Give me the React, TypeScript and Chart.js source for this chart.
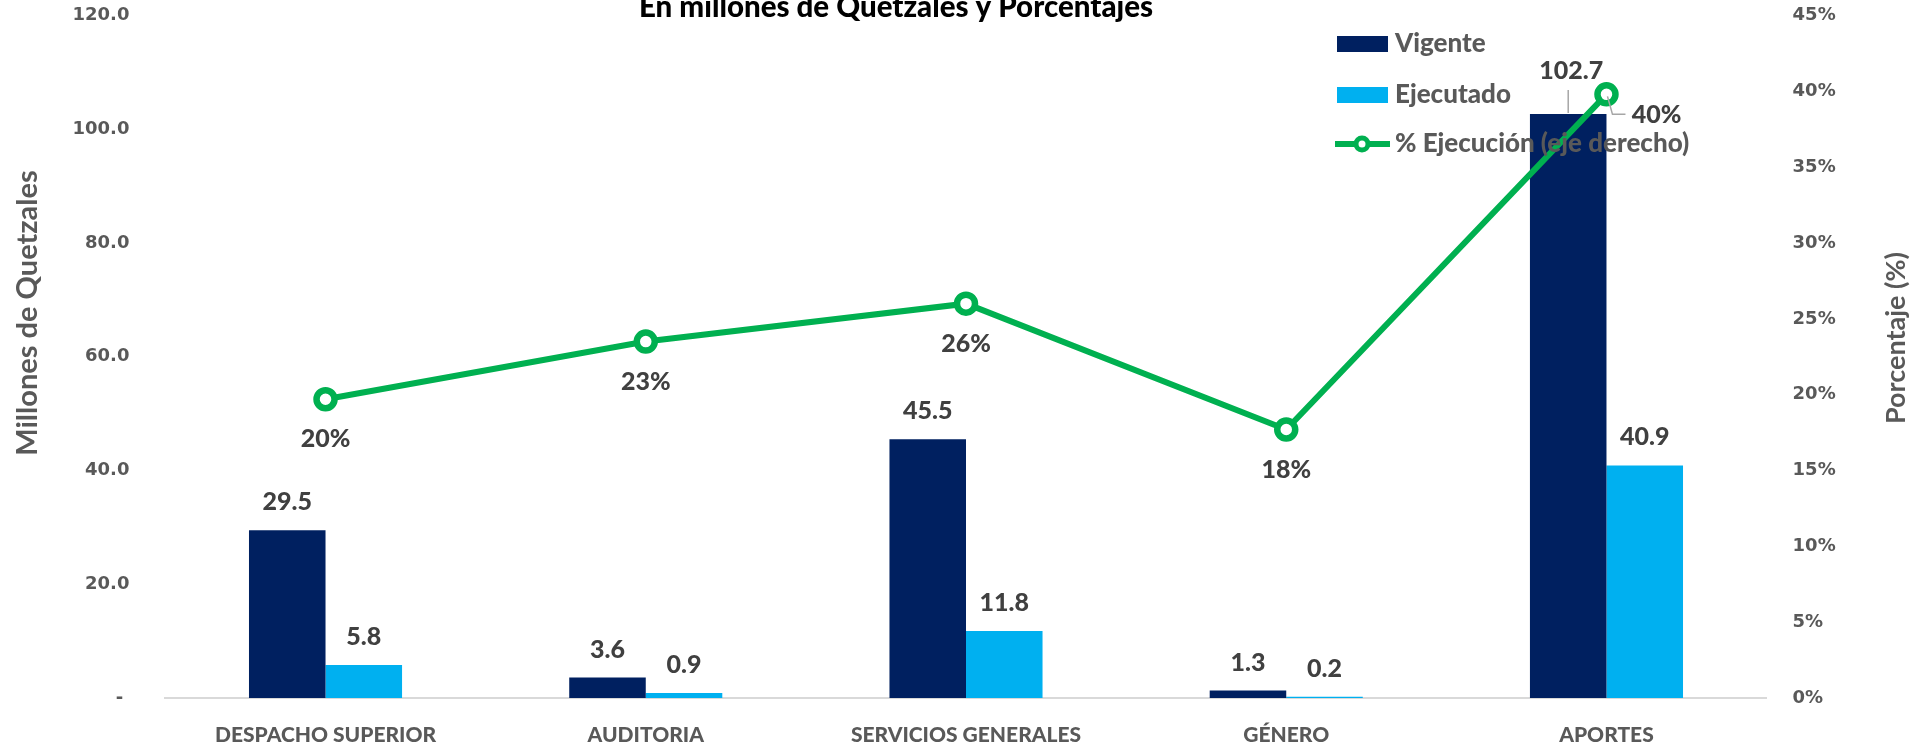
import React, { useEffect, useRef } from "react";
import { Chart, registerables } from "chart.js";
Chart.register(...registerables);

const categories = ["DESPACHO SUPERIOR", "AUDITORIA", "SERVICIOS GENERALES", "GÉNERO", "APORTES"];
const vigente = [29.5, 3.6, 45.5, 1.3, 102.7];
const ejecutado = [5.8, 0.9, 11.8, 0.2, 40.9];
const ejecucionPct = [19.7, 23.5, 26.0, 17.7, 39.8];
const ejecucionLabels = ["20%", "23%", "26%", "18%", "40%"];
const seriesNames = ["Vigente", "Ejecutado", "% Ejecución (eje derecho)"];
const chartTitle = "En millones de Quetzales y Porcentajes";
const leftAxisTitle = "Millones de Quetzales";
const rightAxisTitle = "Porcentaje (%)";

const NAVY = "#002060";
const CYAN = "#00B0F0";
const GREEN = "#00B050";
const TICK_GRAY = "#595959";
const LABEL_GRAY = "#404040";
const LATO = "Lato, 'Open Sans', sans-serif";
const DEJAVU = "'DejaVu Sans', sans-serif";
const HEAVY = "900";

const overlay = {
  id: "overlay",
  afterDatasetsDraw(chart: any) {
    const ctx = chart.ctx;
    ctx.save();
    ctx.font = `${HEAVY} 25px ${LATO}`;
    ctx.fillStyle = LABEL_GRAY;
    ctx.textAlign = "center";
    ctx.textBaseline = "middle";
    [0, 1].forEach((di) => {
      const meta = chart.getDatasetMeta(di);
      meta.data.forEach((bar: any, i: number) => {
        const v = chart.data.datasets[di].data[i] as number;
        let x = bar.x;
        let y = bar.y - 28;
        if (di === 0 && i === meta.data.length - 1) {
          x = bar.x + 3;
          y = bar.y - 43;
          ctx.strokeStyle = "#A6A6A6";
          ctx.lineWidth = 1.5;
          ctx.beginPath();
          ctx.moveTo(bar.x, bar.y - 1);
          ctx.lineTo(bar.x, bar.y - 24);
          ctx.stroke();
        }
        ctx.fillText(v.toFixed(1), x, y);
      });
    });
    const lmeta = chart.getDatasetMeta(2);
    lmeta.data.forEach((pt: any, i: number) => {
      let x = pt.x;
      let y = pt.y + 40;
      if (i === lmeta.data.length - 1) {
        x = pt.x + 50;
        y = pt.y + 21;
        ctx.strokeStyle = "#A6A6A6";
        ctx.lineWidth = 1.5;
        ctx.beginPath();
        ctx.moveTo(pt.x + 1, pt.y + 2);
        ctx.lineTo(pt.x + 6, pt.y + 20);
        ctx.lineTo(pt.x + 19, pt.y + 20);
        ctx.stroke();
      }
      ctx.fillText(ejecucionLabels[i], x, y);
    });
    ctx.restore();
  },
  afterDraw(chart: any) {
    const ctx = chart.ctx;
    ctx.save();
    // title (partly cut at top)
    ctx.font = `${HEAVY} 29.5px ${LATO}`;
    ctx.fillStyle = "#000000";
    ctx.textAlign = "center";
    ctx.textBaseline = "alphabetic";
    ctx.fillText(chartTitle, 896, 17);

    // axis titles
    ctx.fillStyle = TICK_GRAY;
    ctx.textBaseline = "middle";
    ctx.font = `bold 29px ${LATO}`;
    ctx.save();
    ctx.translate(28, 313);
    ctx.rotate(-Math.PI / 2);
    ctx.fillText(leftAxisTitle, 0, 0);
    ctx.restore();
    ctx.font = `bold 27px ${LATO}`;
    ctx.save();
    ctx.translate(1896, 338);
    ctx.rotate(-Math.PI / 2);
    ctx.fillText(rightAxisTitle, 0, 0);
    ctx.restore();

    // legend
    ctx.font = `${HEAVY} 26px ${LATO}`;
    ctx.textAlign = "left";
    ctx.fillStyle = NAVY;
    ctx.fillRect(1337, 36, 51, 16);
    ctx.fillStyle = CYAN;
    ctx.fillRect(1337, 87, 51, 16);
    ctx.strokeStyle = GREEN;
    ctx.lineWidth = 6;
    ctx.beginPath();
    ctx.moveTo(1335, 144);
    ctx.lineTo(1390, 144);
    ctx.stroke();
    ctx.beginPath();
    ctx.arc(1362, 144, 6, 0, Math.PI * 2);
    ctx.fillStyle = "#ffffff";
    ctx.fill();
    ctx.lineWidth = 5;
    ctx.stroke();
    ctx.fillStyle = TICK_GRAY;
    ctx.fillText(seriesNames[0], 1395, 44);
    ctx.fillText(seriesNames[1], 1395, 95);
    ctx.fillText(seriesNames[2], 1395, 144);
    ctx.restore();
  },
};

export default function App() {
  const ref = useRef<HTMLCanvasElement | null>(null);
  useEffect(() => {
    document.body.style.margin = "0";
    const canvas = ref.current;
    if (!canvas) return;
    const chart = new Chart(canvas, {
      type: "bar",
      data: {
        labels: categories,
        datasets: [
          {
            type: "bar",
            label: seriesNames[0],
            data: vigente,
            backgroundColor: NAVY,
            yAxisID: "y",
            order: 2,
            barPercentage: 1,
            categoryPercentage: 0.478,
          },
          {
            type: "bar",
            label: seriesNames[1],
            data: ejecutado,
            backgroundColor: CYAN,
            yAxisID: "y",
            order: 2,
            barPercentage: 1,
            categoryPercentage: 0.478,
          },
          {
            type: "line",
            label: seriesNames[2],
            data: ejecucionPct,
            borderColor: GREEN,
            borderWidth: 6,
            tension: 0,
            pointRadius: 9,
            pointBorderWidth: 6.5,
            pointBackgroundColor: "#ffffff",
            pointBorderColor: GREEN,
            yAxisID: "y1",
            order: 0,
          } as any,
        ],
      },
      options: {
        animation: false,
        responsive: false,
        devicePixelRatio: 1,
        layout: { padding: { top: 15, left: 0, right: 0, bottom: 0 } },
        plugins: {
          legend: { display: false },
          tooltip: { enabled: false },
          title: { display: false },
        },
        scales: {
          x: {
            grid: { display: false },
            border: { display: true, color: "#D9D9D9", width: 2 },
            ticks: {
              font: { family: LATO, weight: HEAVY, size: 21 },
              color: TICK_GRAY,
              padding: 17,
              maxRotation: 0,
              autoSkip: false,
            },
            afterFit(s: any) {
              s.height = 44;
              s.paddingLeft = 0;
              s.paddingRight = 0;
            },
          },
          y: {
            position: "left",
            min: 0,
            max: 120,
            grid: { display: false },
            border: { display: false },
            ticks: {
              stepSize: 20,
              padding: 28,
              color: TICK_GRAY,
              font: { family: DEJAVU, weight: "bold", size: 18 },
              callback: (v: any) => (Number(v) === 0 ? "- " : Number(v).toFixed(1)),
            },
            afterFit(s: any) {
              s.width = 165.4;
              s.paddingTop = 0;
              s.paddingBottom = 0;
            },
          },
          y1: {
            position: "right",
            min: 0,
            max: 45,
            grid: { display: false },
            border: { display: false },
            ticks: {
              stepSize: 5,
              padding: 18,
              color: TICK_GRAY,
              font: { family: DEJAVU, weight: "bold", size: 18 },
              callback: (v: any) => `${v}%`,
            },
            afterFit(s: any) {
              s.width = 146.4;
              s.paddingTop = 0;
              s.paddingBottom = 0;
            },
          },
        },
      } as any,
      plugins: [overlay],
    });
    return () => chart.destroy();
  }, []);
  return (
    <div style={{ width: 1913, height: 742, position: "relative", background: "#fff" }}>
      <canvas ref={ref} width={1913} height={742} style={{ display: "block" }} />
    </div>
  );
}
